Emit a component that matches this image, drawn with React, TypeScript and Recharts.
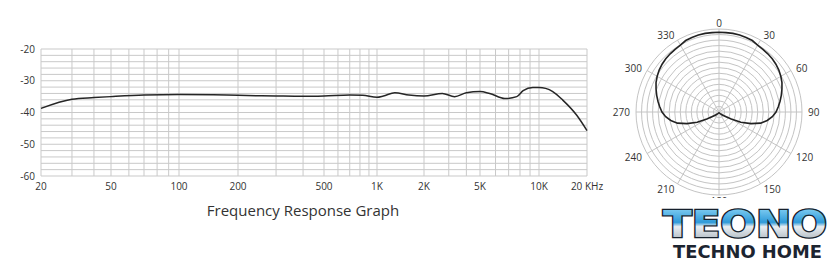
import {
  LineChart,
  Line,
  XAxis,
  YAxis,
  CartesianGrid,
  RadarChart,
  Radar,
  PolarGrid,
  PolarAngleAxis,
  PolarRadiusAxis,
} from "recharts";

document.body.style.margin = "0";

// frequency response (Hz, dB)
const FREQS = [
  20, 30, 40, 50, 70, 100, 150, 200, 300, 400, 500, 700, 830, 1000, 1100, 1300,
  1600, 2000, 2700, 3300, 4000, 5000, 5600, 6700, 7700, 8300, 9300, 10000, 11000,
  12200, 14100, 17200, 20000,
];
const DB = [
  -38.7, -35.8, -35.3, -35.0, -34.5, -34.3, -34.4, -34.6, -34.8, -34.9, -34.8, -34.5,
  -34.6, -35.2, -34.8, -33.8, -34.5, -34.8, -34.0, -35.0, -33.8, -33.4, -34.0, -35.6,
  -35.0, -33.1, -32.1, -32.1, -32.4, -33.4, -36.1, -40.8, -45.7,
];

// labelled frequency ticks and where the printed (hand drawn) axis puts them
const FREQ_TICKS = [20, 50, 100, 200, 500, 1000, 2000, 5000, 10000, 20000];
const FREQ_TICK_LABELS = ["20", "50", "100", "200", "500", "1K", "2K", "5K", "10K", "20 KHz"];
const FREQ_TICK_UNITS = [0, 70, 138, 197, 283, 336, 383, 439, 498, 546];
const GRID_FREQS = [
  20, 30, 40, 50, 60, 70, 80, 90, 100, 200, 300, 400, 500, 600, 700, 800, 900, 1000,
  2000, 3000, 4000, 5000, 6000, 7000, 8000, 9000, 10000, 20000,
];
const DB_LABELS = [-20, -30, -40, -50, -60];

// polar pattern, 0..355 deg in 5 deg steps, % of outer ring
const ANGLES = Array.from({ length: 72 }, (_, i) => i * 5);
const POLAR = [
  96, 96, 96.2, 96, 95.5, 95, 93, 92.2, 91.5, 90.7, 89.5, 88, 86, 83.7, 80.7, 77.7,
  74.7, 71.7, 68.7, 64.5, 59, 51.8, 41, 29, 17, 9.5, 6, 4.2, 3, 2.4, 1.8, 1.3, 1, 0.7,
  0.4, 0.2, 0, 0.2, 0.4, 0.7, 1, 1.3, 1.8, 2.4, 3, 4.2, 6, 9.5, 17, 29, 41, 51.8, 59,
  64.5, 68.7, 71.7, 74.7, 77.7, 80.7, 83.7, 86, 88, 89.5, 90.7, 91.5, 92.2, 93, 95,
  95.5, 96, 96.2, 96,
];
const POLAR_LABEL_STEP = 30;

const warp = (f: number) => {
  for (let i = 0; i < FREQ_TICKS.length - 1; i++) {
    const f0 = FREQ_TICKS[i];
    const f1 = FREQ_TICKS[i + 1];
    if (f <= f1 || i === FREQ_TICKS.length - 2) {
      const t = Math.log(f / f0) / Math.log(f1 / f0);
      return FREQ_TICK_UNITS[i] + t * (FREQ_TICK_UNITS[i + 1] - FREQ_TICK_UNITS[i]);
    }
  }
  return 0;
};

const rows = FREQS.map((f, i) => ({ u: warp(f), db: DB[i] }));
const gridUnits = GRID_FREQS.map(warp);
const dbTicks = Array.from({ length: 21 }, (_, i) => -60 + i * 2);
const polarRows = ANGLES.map((a, i) => ({ a, r: POLAR[i] }));

const OUTER = 83;
const rings = Array.from({ length: 15 }, (_, i) => (OUTER * (i + 1)) / 15);
const spokes = Array.from({ length: 12 }, (_, i) => i * 30);

const FONT = "'Open Sans', 'Noto Sans', sans-serif";

function AngleTick(props: any) {
  const { x, y, payload, textAnchor } = props;
  if (payload.value % POLAR_LABEL_STEP !== 0) return <g />;
  return (
    <text
      x={x}
      y={y}
      textAnchor={textAnchor}
      dominantBaseline="central"
      fontSize={10}
      fontFamily={FONT}
      fill="#333"
    >
      {payload.value}
    </text>
  );
}

function Logo() {
  return (
    <svg width={185} height={71} style={{ position: "absolute", left: 655, top: 198 }}>
      <defs>
        <linearGradient id="teono" x1="0" y1="0" x2="0" y2="1">
          <stop offset="0%" stopColor="#9ee0fb" />
          <stop offset="45%" stopColor="#2f9ad8" />
          <stop offset="55%" stopColor="#e9eef2" />
          <stop offset="100%" stopColor="#98a3ad" />
        </linearGradient>
      </defs>
      <rect width={185} height={71} fill="#fff" />
      <text
        x={8}
        y={39}
        fontSize={37}
        fontWeight={700}
        fontFamily="'DejaVu Sans', sans-serif"
        textLength={164}
        lengthAdjust="spacingAndGlyphs"
        fill="url(#teono)"
        stroke="#16202c"
        strokeWidth={2.5}
        paintOrder="stroke"
      >
        TEONO
      </text>
      <text
        x={18}
        y={60}
        fontSize={17}
        fontWeight={700}
        fontFamily="'DejaVu Sans', sans-serif"
        textLength={149}
        lengthAdjust="spacingAndGlyphs"
        fill="#1c2430"
      >
        TECHNO HOME
      </text>
    </svg>
  );
}

export default function App() {
  return (
    <div style={{ position: "relative", width: 840, height: 269, background: "#fff", overflow: "hidden" }}>
      <div style={{ position: "absolute", left: 0, top: 0 }}>
        <LineChart width={620} height={200} data={rows} margin={{ top: 49, right: 33, left: 0, bottom: 0 }}>
          <CartesianGrid stroke="#c9c9c9" strokeWidth={1} />
          <XAxis
            type="number"
            dataKey="u"
            domain={[0, 546]}
            ticks={gridUnits}
            interval={0}
            tickFormatter={(_v: number, i: number) => {
              const k = FREQ_TICKS.indexOf(GRID_FREQS[i]);
              return k >= 0 ? FREQ_TICK_LABELS[k] : "";
            }}
            axisLine={false}
            tickLine={false}
            tickSize={0}
            tickMargin={7}
            height={24}
            tick={{ fontSize: 10, fill: "#333", fontFamily: FONT }}
          />
          <YAxis
            type="number"
            domain={[-60, -20]}
            ticks={dbTicks}
            interval={0}
            width={41}
            tickFormatter={(v: number) => (DB_LABELS.includes(v) ? String(v) : "")}
            axisLine={false}
            tickLine={false}
            tickSize={0}
            tickMargin={6}
            tick={{ fontSize: 10, fill: "#333", fontFamily: FONT }}
          />
          <Line
            dataKey="db"
            type="monotone"
            stroke="#262626"
            strokeWidth={1.5}
            dot={false}
            isAnimationActive={false}
          />
        </LineChart>
      </div>
      <div
        style={{
          position: "absolute",
          left: 3,
          top: 201,
          width: 600,
          textAlign: "center",
          fontFamily: FONT,
          fontSize: 15,
          lineHeight: "18px",
          color: "#333",
        }}
      >
        Frequency Response Graph
      </div>
      <div style={{ position: "absolute", left: 599, top: 2 }}>
        <RadarChart
          width={240}
          height={220}
          cx={120}
          cy={110}
          outerRadius={OUTER}
          data={polarRows}
          margin={{ top: 0, right: 0, bottom: 0, left: 0 }}
        >
          <PolarGrid gridType="circle" polarRadius={rings} polarAngles={spokes} stroke="#c4c4c4" />
          <PolarAngleAxis dataKey="a" tick={AngleTick} tickLine={false} axisLine={false} tickSize={6} />
          <PolarRadiusAxis domain={[0, 100]} tick={false} axisLine={false} />
          <Radar
            dataKey="r"
            stroke="#222"
            strokeWidth={1.6}
            fill="none"
            fillOpacity={0}
            dot={false}
            isAnimationActive={false}
          />
        </RadarChart>
      </div>
      <Logo />
    </div>
  );
}
